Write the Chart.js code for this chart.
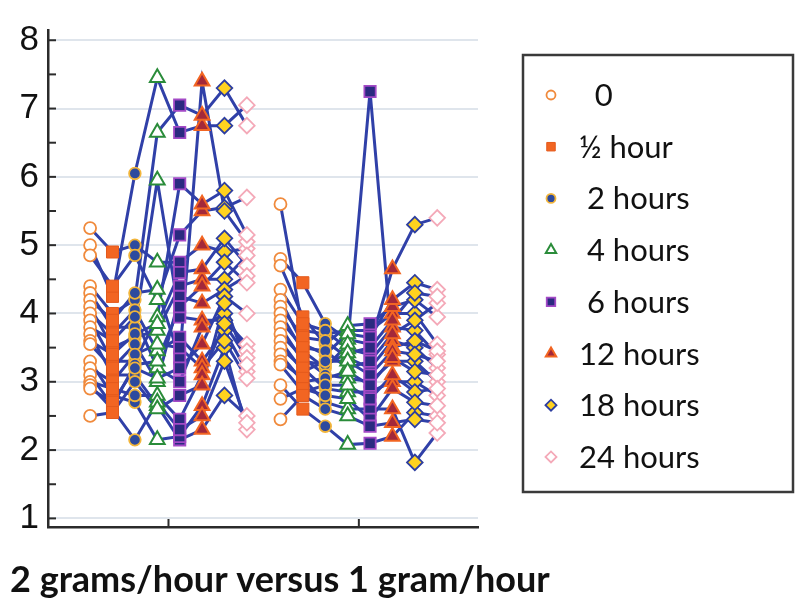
<!DOCTYPE html>
<html>
<head>
<meta charset="utf-8">
<script src="https://cdn.jsdelivr.net/npm/chart.js@4.4.1/dist/chart.umd.min.js"></script>
<style>
  html, body { margin: 0; padding: 0; background: #fff; }
  #wrap { position: relative; width: 800px; height: 605px; }
</style>
</head>
<body>
<div id="wrap"><canvas id="grafico" width="800" height="605"></canvas></div>
<script>
// time points (legend labels, leading spaces as in the original legend)
const timepoints = ['  0', '½ hour', ' 2 hours', ' 4 hours', ' 6 hours', '12 hours', '18 hours', '24 hours'];
const xTitle = '2 grams/hour versus 1 gram/hour';
const yTicks = [1, 1.5, 2, 2.5, 3, 3.5, 4, 4.5, 5, 5.5, 6, 6.5, 7, 7.5, 8];

// 2 grams/hour: one row per subject, value at each time point
const group1 = [
    [5.25, 4.9, 5.0, 4.75, 4.75, 5.0, 4.9, 4.95],
    [5.0, 4.25, 6.05, 7.45, 6.65, 6.75, 6.75, 7.05],
    [4.85, 4.4, 4.85, 4.2, 5.15, 5.5, 5.55, 5.7],
    [4.4, 4.0, 4.2, 6.65, 7.05, 6.9, 7.3, 6.75],
    [4.3, 3.8, 3.8, 5.95, 3.95, 3.9, 3.9, 3.55],
    [4.2, 3.9, 4.3, 4.35, 3.35, 7.4, 5.5, 5.05],
    [4.1, 3.5, 3.65, 3.75, 4.4, 4.5, 4.5, 4.85],
    [4.0, 3.7, 4.05, 3.45, 3.65, 3.3, 3.75, 3.15],
    [3.9, 3.3, 3.3, 3.95, 5.9, 5.6, 5.8, 5.15],
    [3.8, 3.6, 3.95, 3.2, 3.0, 3.8, 4.0, 3.45],
    [3.7, 3.1, 3.1, 2.65, 2.15, 2.3, 2.8, 2.5],
    [3.6, 3.4, 3.7, 3.85, 4.6, 4.65, 5.1, 4.7],
    [3.55, 3.2, 3.55, 3.0, 4.25, 4.15, 4.35, 4.55],
    [3.3, 2.8, 2.7, 2.15, 2.2, 2.65, 3.5, 2.3],
    [3.2, 3.0, 3.4, 3.55, 3.5, 3.2, 3.6, 3.05],
    [3.1, 2.65, 3.25, 3.3, 4.1, 4.4, 4.75, 4.45],
    [3.0, 2.9, 2.8, 2.8, 2.45, 3.1, 3.85, 3.35],
    [2.95, 2.6, 2.15, 2.7, 2.3, 2.5, 3.3, 2.4],
    [2.9, 2.7, 3.2, 3.05, 3.2, 3.55, 4.25, 4.0],
    [2.5, 2.55, 3.0, 2.6, 2.8, 2.95, 4.15, 3.25]
];

// 1 gram/hour
const group2 = [
    [5.6, 3.75, 3.7, 3.75, 3.75, 4.0, 4.0, 3.55],
    [4.8, 4.45, 3.85, 3.62, 3.55, 4.65, 5.3, 5.4],
    [4.7, 3.95, 3.55, 3.82, 3.85, 4.1, 4.2, 3.95],
    [4.35, 3.85, 3.75, 3.48, 3.4, 3.8, 3.75, 3.4],
    [4.2, 3.55, 3.4, 3.7, 3.65, 4.2, 4.45, 4.35],
    [4.1, 3.65, 3.6, 3.35, 3.2, 3.6, 3.5, 3.2],
    [4.0, 3.45, 3.2, 3.55, 7.25, 3.5, 3.6, 3.45],
    [3.9, 3.5, 3.45, 3.2, 3.3, 3.7, 3.9, 4.15],
    [3.8, 3.3, 3.25, 3.42, 3.5, 3.9, 4.3, 4.25],
    [3.7, 3.35, 3.1, 3.05, 3.0, 3.3, 3.3, 3.0],
    [3.6, 3.15, 3.3, 3.3, 3.1, 3.45, 3.4, 3.3],
    [3.5, 3.2, 2.9, 2.85, 2.85, 3.0, 3.0, 2.8],
    [3.4, 3.0, 3.05, 3.15, 2.95, 3.35, 3.15, 3.1],
    [3.3, 3.05, 2.7, 2.6, 2.6, 2.6, 1.82, 2.25],
    [3.25, 2.85, 2.95, 2.95, 2.75, 3.1, 2.85, 2.9],
    [2.95, 2.6, 2.35, 2.08, 2.1, 2.2, 2.55, 2.5],
    [2.75, 2.9, 2.8, 2.75, 2.45, 2.9, 2.7, 2.65],
    [2.45, 2.8, 2.6, 2.5, 2.35, 2.4, 2.45, 2.4]
];

// layout on the x axis: group centres and the slot of each time point inside a group
const groupCenters = [5.38, 13.88];
const slotOffsets = [-3.5, -2.5, -1.5, -0.5, 0.5, 1.5, 2.5, 3.5];
const xMax = 19.2;

const lineColor = '#3040a8';
const markerStyles = [
    { style: 'circle',   radius: 6,   legendRadius: 4.5, bg: '#ffffff', border: '#f08a3c', bw: 1.8 },
    { style: 'rect',     radius: 8.5, legendRadius: 6,   bg: '#f26522', border: '#e45a1c', bw: 1 },
    { style: 'circle',   radius: 5.8, legendRadius: 4.5, bg: '#2d4a9e', border: '#f2b53a', bw: 1.8 },
    { style: 'triangle', radius: 8.5, legendRadius: 6,   bg: '#ffffff', border: '#2a8c3a', bw: 2 },
    { style: 'rect',     radius: 8,   legendRadius: 6,   bg: '#2a2a80', border: '#a34ac6', bw: 1.8 },
    { style: 'triangle', radius: 8.5, legendRadius: 6,   bg: '#a3283a', border: '#f26522', bw: 2 },
    { style: 'rectRot',  radius: 7.8, legendRadius: 5.5, bg: '#ffd21f', border: '#2d3ea0', bw: 1.8 },
    { style: 'rectRot',  radius: 7.8, legendRadius: 5.5, bg: '#ffffff', border: '#f4a9b8', bw: 1.8 }
];

const datasets = [];

// markers, one dataset per time point (drawn on top of the lines)
timepoints.forEach((t, i) => {
    const pts = [];
    [group1, group2].forEach((grp, g) => {
        grp.forEach(s => pts.push({ x: groupCenters[g] + slotOffsets[i], y: s[i] }));
    });
    const st = markerStyles[i];
    datasets.push({
        label: t.trim(),
        data: pts,
        showLine: false,
        pointStyle: st.style,
        pointRadius: st.radius,
        pointHoverRadius: st.radius,
        backgroundColor: st.bg,
        borderColor: st.border,
        borderWidth: st.bw,
        order: 0
    });
});

// one line per subject
[group1, group2].forEach((grp, g) => {
    grp.forEach(s => {
        datasets.push({
            label: '',
            data: s.map((v, i) => ({ x: groupCenters[g] + slotOffsets[i], y: v })),
            showLine: true,
            borderColor: lineColor,
            borderWidth: 3,
            pointRadius: 0,
            order: 1
        });
    });
});

// tick marks pointing into the plot
const marcasEixos = {
    id: 'marcasEixos',
    afterDraw(chart) {
        const { ctx, chartArea, scales: { x, y } } = chart;
        ctx.save();
        ctx.strokeStyle = '#2b2b2b';
        ctx.lineWidth = 2;
        yTicks.forEach(v => {
            const py = y.getPixelForValue(v);
            ctx.beginPath();
            ctx.moveTo(chartArea.left, py);
            ctx.lineTo(chartArea.left + 8, py);
            ctx.stroke();
        });
        groupCenters.forEach(v => {
            const px = x.getPixelForValue(v);
            ctx.beginPath();
            ctx.moveTo(px, chartArea.bottom);
            ctx.lineTo(px, chartArea.bottom - 8);
            ctx.stroke();
        });
        ctx.restore();
    }
};

// boxed legend on the right and the x title under the whole figure
const legendaCaixa = {
    id: 'legendaCaixa',
    afterDraw(chart) {
        const ctx = chart.ctx;
        ctx.save();
        ctx.strokeStyle = '#3a3a3a';
        ctx.lineWidth = 2.5;
        ctx.strokeRect(523, 55, 270, 437);
        ctx.font = '31px Lato';
        ctx.textBaseline = 'middle';
        timepoints.forEach((t, i) => {
            const ly = 95 + i * 51.7;
            const st = markerStyles[i];
            ctx.fillStyle = st.bg;
            ctx.strokeStyle = st.border;
            ctx.lineWidth = st.bw;
            Chart.helpers.drawPoint(ctx, { pointStyle: st.style, radius: st.legendRadius, rotation: 0, borderWidth: st.bw }, 551, ly);
            ctx.fillStyle = '#111';
            ctx.fillText(t, 579, ly + 1);
        });
        ctx.font = 'bold 36px Lato';
        ctx.textBaseline = 'alphabetic';
        ctx.fillStyle = '#111';
        ctx.fillText(xTitle, 10, 592);
        ctx.restore();
    }
};

new Chart(document.getElementById('grafico'), {
    type: 'scatter',
    data: { datasets: datasets },
    options: {
        responsive: false,
        animation: false,
        events: [],
        layout: { padding: { left: 10, top: 19, right: 322, bottom: 0 } },
        scales: {
            x: {
                type: 'linear',
                min: 0,
                max: xMax,
                grid: { display: false, drawTicks: false },
                border: { display: true, color: '#2b2b2b', width: 2.5 },
                ticks: { display: false },
                afterFit: s => { s.height = 78; }
            },
            y: {
                min: 0.874,
                max: 8.15,
                afterBuildTicks: s => { s.ticks = yTicks.map(v => ({ value: v })); },
                ticks: {
                    callback: v => Number.isInteger(v) ? String(v) : '',
                    font: { family: 'Liberation Sans', size: 35 },
                    color: '#111',
                    padding: 9
                },
                grid: {
                    color: c => Number.isInteger(c.tick.value) ? '#dfe5ec' : 'rgba(0,0,0,0)',
                    lineWidth: 2,
                    drawTicks: false
                },
                border: { display: true, color: '#2b2b2b', width: 2.5 },
                afterFit: s => { s.width = 38; }
            }
        },
        plugins: {
            legend: { display: false },
            tooltip: { enabled: false }
        }
    },
    plugins: [marcasEixos, legendaCaixa]
});
</script>
</body>
</html>
